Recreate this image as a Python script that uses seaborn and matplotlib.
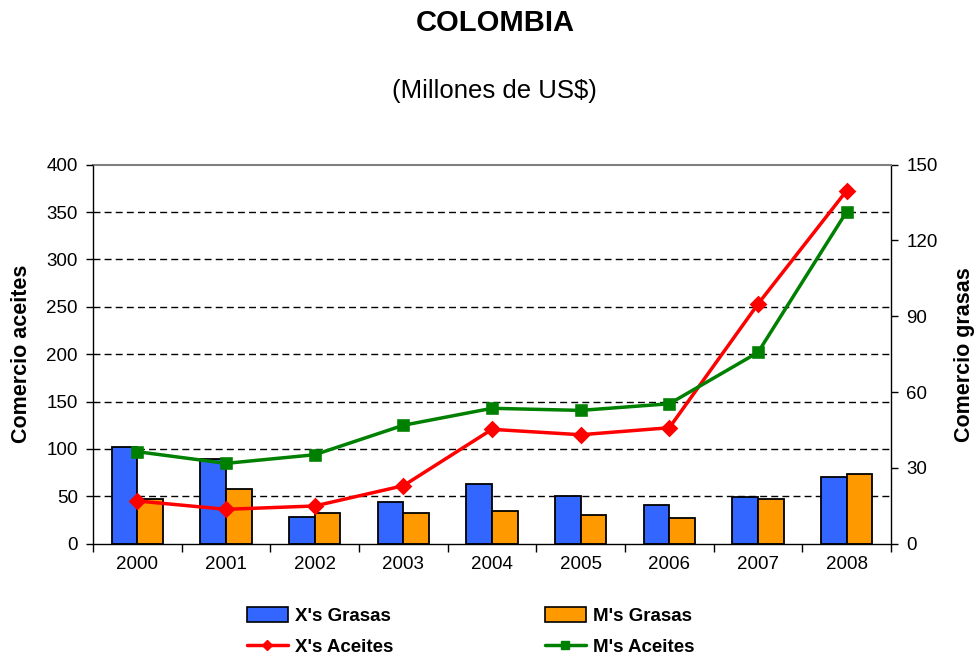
import matplotlib
matplotlib.use("Agg")
import matplotlib.pyplot as plt
from matplotlib.lines import Line2D
from matplotlib.patches import Patch
import numpy as np
import pandas as pd
import seaborn as sns

# ------------------------------------------------------------
# Data (millones de US$)
# ------------------------------------------------------------
years = ["2000", "2001", "2002", "2003", "2004", "2005", "2006", "2007", "2008"]

# Grasas -> right axis (bars)
x_grasas = [38.4, 33.6, 10.7, 16.4, 23.7, 18.9, 15.4, 18.3, 26.3]
m_grasas = [17.6, 21.5, 12.3, 12.3, 12.9, 11.3, 10.2, 17.5, 27.7]

# Aceites -> left axis (lines)
x_aceites = [45.1, 36.3, 39.8, 61.2, 120.7, 115.0, 122.4, 253.0, 372.6]
m_aceites = [97.1, 84.8, 93.9, 125.0, 142.9, 140.7, 147.7, 201.9, 350.4]

BLUE = "#3366FF"
ORANGE = "#FF9900"
RED = "#FF0000"
GREEN = "#008000"

sns.set_theme(style="white")
plt.rcParams["font.family"] = ["Liberation Sans", "DejaVu Sans"]
plt.rcParams["text.color"] = "black"
plt.rcParams["axes.labelcolor"] = "black"

bars = pd.DataFrame({
    "year": years * 2,
    "value": x_grasas + m_grasas,
    "serie": ["X's Grasas"] * len(years) + ["M's Grasas"] * len(years),
})

fig = plt.figure(figsize=(9.76, 6.58), dpi=100)
ax_bar = fig.add_axes([0.0953, 0.1737, 0.8176, 0.5760])
ax_line = ax_bar.twinx()

# bars (grasas) on the lower axes, right-hand scale
sns.barplot(data=bars, x="year", y="value", hue="serie", order=years,
            palette=[BLUE, ORANGE], width=0.58, gap=0, edgecolor="black",
            linewidth=1.3, saturation=1, legend=False, ax=ax_bar)
ax_bar.set_ylim(0, 150)
ax_bar.set_yticks(np.arange(0, 151, 30))
ax_bar.yaxis.tick_right()
ax_bar.yaxis.set_label_position("right")
ax_bar.set_ylabel("Comercio grasas", fontsize=15.5, weight="bold", labelpad=12)
# dashed grid matches the left scale (every 50 of 400)
ax_bar.set_yticks(np.arange(18.75, 150, 18.75), minor=True)
ax_bar.grid(which="minor", axis="y", color="black", linestyle=(0, (5, 3)), linewidth=1)
ax_bar.grid(which="major", axis="y", visible=False)
ax_bar.set_axisbelow(True)
ax_bar.tick_params(axis="y", which="minor", length=0)
ax_bar.tick_params(axis="y", which="major", right=True, left=False, direction="out",
                   length=5, width=1, labelsize=13.5, pad=6, colors="black")

# lines (aceites) on the upper axes, left-hand scale
sns.pointplot(x=years, y=x_aceites, order=years, color=RED, marker="D",
              markersize=7, linewidth=2.5, ax=ax_line)
sns.pointplot(x=years, y=m_aceites, order=years, color=GREEN, marker="s",
              markersize=7, linewidth=2.5, ax=ax_line)
ax_line.set_ylim(0, 400)
ax_line.set_yticks(np.arange(0, 401, 50))
ax_line.yaxis.tick_left()
ax_line.yaxis.set_label_position("left")
ax_line.set_ylabel("Comercio aceites", fontsize=15.5, weight="bold", labelpad=10)
ax_line.tick_params(axis="y", left=True, right=False, direction="out",
                    length=5, width=1, labelsize=13.5, pad=6, colors="black")
for sp in ax_line.spines.values():
    sp.set_visible(False)

# x axis: labels at centres, tick marks at category boundaries
ax_bar.set_xlim(-0.5, len(years) - 0.5)
ax_bar.set_xlabel("")
ax_line.set_xlabel("")
ax_bar.set_xticks(np.arange(-0.5, len(years), 1.0), minor=True)
ax_bar.tick_params(axis="x", which="major", length=0, labelsize=13.5, pad=9, colors="black")
ax_bar.tick_params(axis="x", which="minor", bottom=True, length=6, width=1, direction="out", color="black")

for side in ["left", "right", "bottom"]:
    ax_bar.spines[side].set_visible(True)
    ax_bar.spines[side].set_color("black")
    ax_bar.spines[side].set_linewidth(1)
ax_bar.spines["top"].set_color("#808080")
ax_bar.spines["top"].set_linewidth(1.5)

fig.text(0.507, 0.965, "COLOMBIA", ha="center", va="center", fontsize=21, weight="bold")
fig.text(0.507, 0.861, "(Millones de US$)", ha="center", va="center", fontsize=18.5)

handles = [
    Patch(facecolor=BLUE, edgecolor="black", linewidth=1.2),
    Line2D([], [], color=RED, marker="D", markersize=5.5, linewidth=2.5),
    Patch(facecolor=ORANGE, edgecolor="black", linewidth=1.2),
    Line2D([], [], color=GREEN, marker="s", markersize=5.5, linewidth=2.5),
]
labels = ["X's Grasas", "X's Aceites", "M's Grasas", "M's Aceites"]
fig.legend(handles, labels, ncol=2, loc="center", bbox_to_anchor=(0.482, 0.04),
           frameon=False, prop={"size": 13.5, "weight": "bold"}, handlelength=2.2,
           handleheight=0.8, handletextpad=0.35, columnspacing=8.1, labelspacing=0.7)

fig.savefig("out.png", dpi=100)
